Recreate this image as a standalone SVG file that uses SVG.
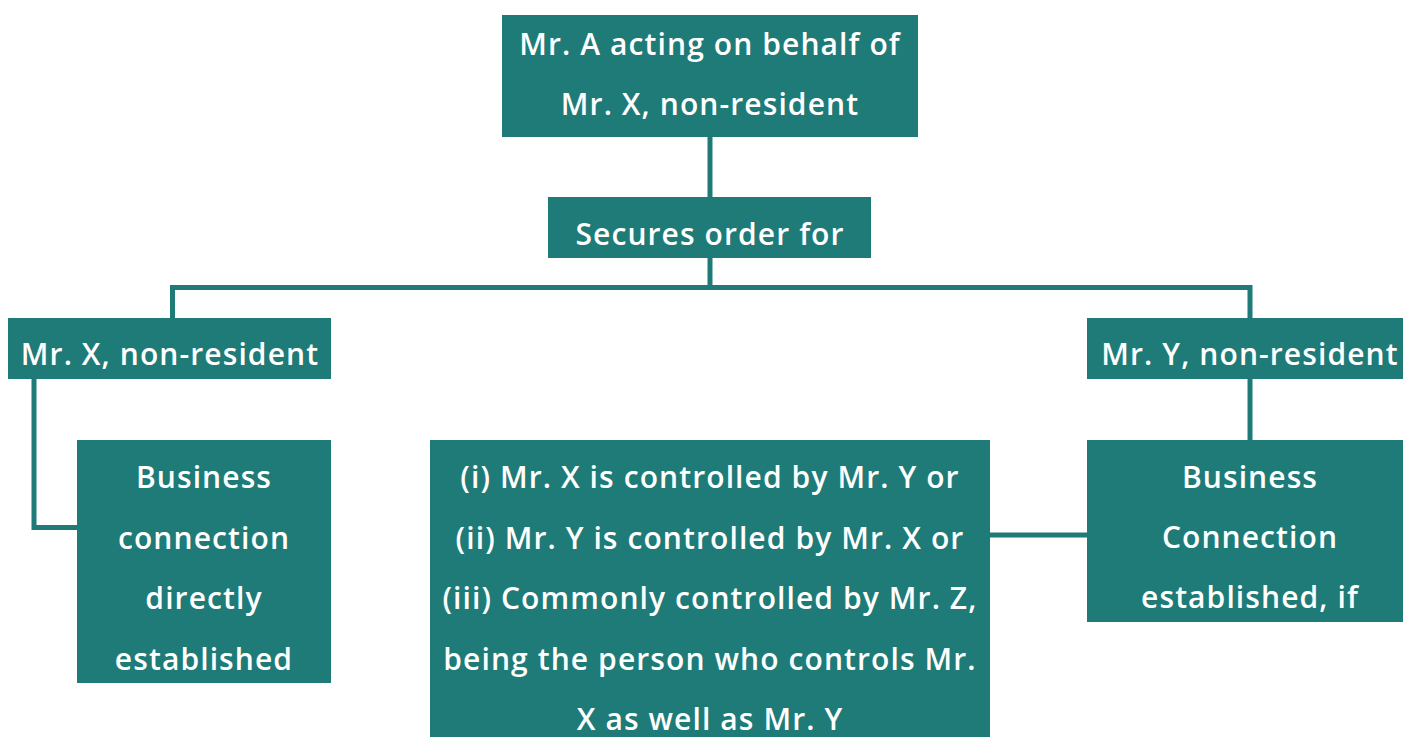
<svg xmlns="http://www.w3.org/2000/svg" width="1403" height="737" viewBox="0 0 1403 737">
  <style>
    .box { fill: #1e7b78; }
    .link { fill: none; stroke: #1e7b78; stroke-width: 5; }
    .label { fill: #ffffff; font-family: "Open Sans", "Noto Sans", sans-serif; font-weight: 600; font-size: 30px; letter-spacing: 1.1px; text-anchor: middle; dominant-baseline: central; }
  </style>
  <rect width="1403" height="737" fill="#ffffff"/>

  <!-- connectors -->
  <g id="connectors">
    <path class="link" d="M710 137 V197"/>
    <path class="link" d="M710 258 V287.5"/>
    <path class="link" d="M172.5 318 V287.5 H1250 V318"/>
    <path class="link" d="M34 379 V527.5 H77"/>
    <path class="link" d="M1250 379 V440"/>
    <path class="link" d="M990 535 H1087"/>
  </g>

  <g id="node-agent">
    <rect class="box" x="502" y="15" width="416" height="122"/>
    <text class="label" x="710" y="43">Mr. A acting on behalf of</text>
    <text class="label" x="710" y="103">Mr. X, non-resident</text>
  </g>

  <g id="node-secures">
    <rect class="box" x="548" y="197" width="323" height="61"/>
    <text class="label" x="710" y="233">Secures order for</text>
  </g>

  <g id="node-x">
    <rect class="box" x="8" y="318" width="323" height="61"/>
    <text class="label" x="170" y="353">Mr. X, non-resident</text>
  </g>

  <g id="node-y">
    <rect class="box" x="1087" y="318" width="325" height="61"/>
    <text class="label" x="1250" y="353">Mr. Y, non-resident</text>
  </g>

  <g id="node-direct">
    <rect class="box" x="77" y="440" width="254" height="243"/>
    <text class="label" x="204" y="476">Business</text>
    <text class="label" x="204" y="537">connection</text>
    <text class="label" x="204" y="597">directly</text>
    <text class="label" x="204" y="658">established</text>
  </g>

  <g id="node-conditions">
    <rect class="box" x="430" y="440" width="560" height="300"/>
    <text class="label" x="710" y="476">(i) Mr. X is controlled by Mr. Y or</text>
    <text class="label" x="710" y="537">(ii) Mr. Y is controlled by Mr. X or</text>
    <text class="label" x="710" y="597">(iii) Commonly controlled by Mr. Z,</text>
    <text class="label" x="710" y="658">being the person who controls Mr.</text>
    <text class="label" x="710" y="718">X as well as Mr. Y</text>
  </g>

  <g id="node-indirect">
    <rect class="box" x="1087" y="440" width="325" height="182"/>
    <text class="label" x="1250" y="476">Business</text>
    <text class="label" x="1250" y="536">Connection</text>
    <text class="label" x="1250" y="596">established, if</text>
  </g>
</svg>
